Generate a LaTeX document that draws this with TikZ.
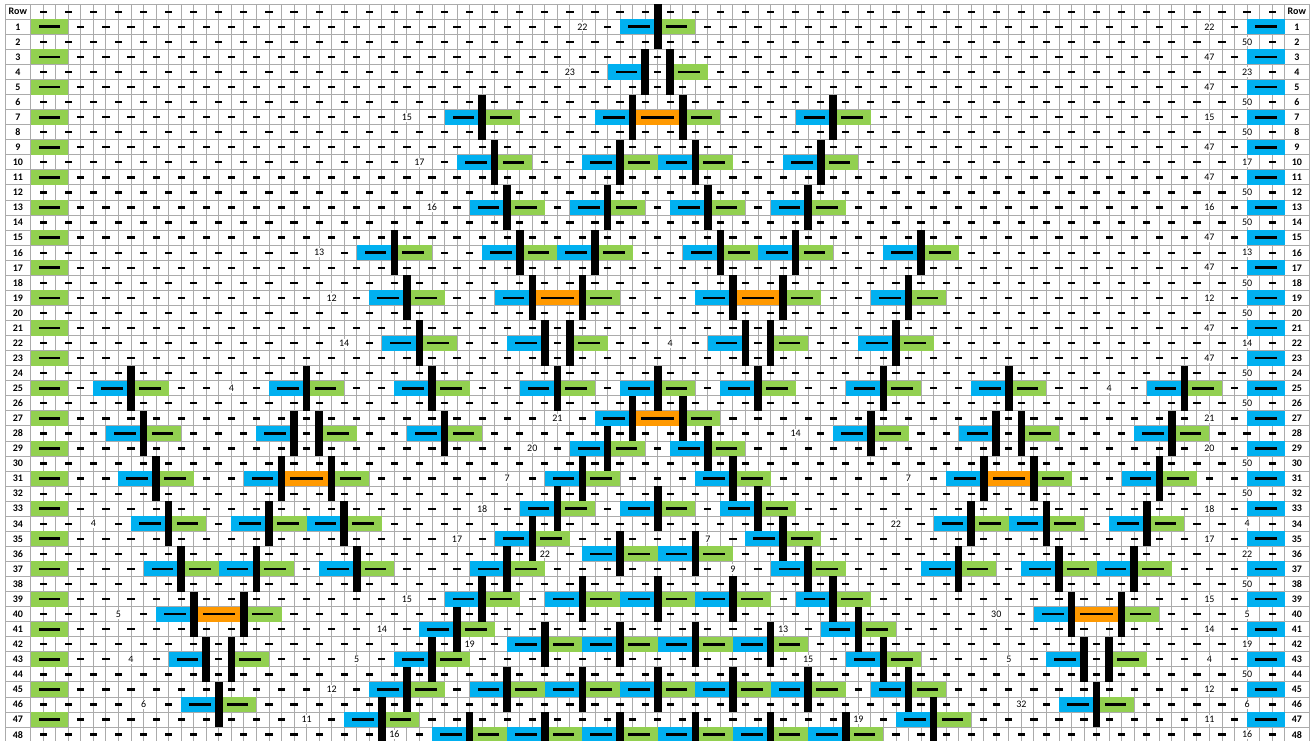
\documentclass[tikz,border=0pt]{standalone}
\usepackage{fontspec}
\setmainfont{Carlito}
\definecolor{cBlue}{HTML}{00B0F0}
\definecolor{cGreen}{HTML}{92D050}
\definecolor{cOrange}{HTML}{FF9900}
\definecolor{cGrid}{HTML}{ABABAB}
\newcommand\cellfill[4]{\fill[#1] ({X(#3)},{T(#2)}) rectangle ({X(#4)},{T(#2+1)});}
\newcommand\ldash[3]{\fill[black] ({X(#2)-#3},{C(#1)-1.35}) rectangle ({X(#2)+#3},{C(#1)+1.35});}
\newcommand\sdash[2]{\fill[black] ({X(#2)-3.6},{C(#1)-1.15}) rectangle ({X(#2)+3.6},{C(#1)+1.15});}
\newcommand\blkbar[2]{\fill[black] ({X(#2)-3.8},{T(#1-1)}) rectangle ({X(#2)+3.8},{T(#1+2)});}
\newcommand\cellsS[2]{\cellfill{cBlue}{#1}{#2-3}{#2}\cellfill{cGreen}{#1}{#2}{#2+3}\ldash{#1}{#2-1.5}{10.8}\ldash{#1}{#2+1.5}{10.8}}
\newcommand\cellsD[2]{\cellfill{cBlue}{#1}{#2-5}{#2-2}\cellfill{cOrange}{#1}{#2-2}{#2+2}\cellfill{cGreen}{#1}{#2+2}{#2+5}\ldash{#1}{#2-3.5}{10.8}\ldash{#1}{#2}{16.3}\ldash{#1}{#2+3.5}{10.8}}
\newcommand\cellsP[2]{\cellfill{cBlue}{#1}{#2-4}{#2-1}\cellfill{cGreen}{#1}{#2+1}{#2+4}\ldash{#1}{#2-2.5}{10.8}\ldash{#1}{#2+2.5}{10.8}\sdash{#1}{#2}}
\newcommand\barsS[2]{\blkbar{#1}{#2}}
\newcommand\barsD[2]{\blkbar{#1}{#2-2}\blkbar{#1}{#2+2}}
\newcommand\barsP[2]{\blkbar{#1}{#2-1}\blkbar{#1}{#2+1}}
\def\curpass{cells}
\def\blk#1#2#3{\csname\curpass#1\endcsname{#2}{#3}}
\newcommand\allblocks{%
\blk S{1}{50}
\blk P{4}{50}
\blk S{7}{36}\blk D{7}{50}\blk S{7}{64}
\blk S{10}{37}\blk S{10}{47}\blk S{10}{53}\blk S{10}{63}
\blk S{13}{38}\blk S{13}{46}\blk S{13}{54}\blk S{13}{62}
\blk S{16}{29}\blk S{16}{39}\blk S{16}{45}\blk S{16}{55}\blk S{16}{61}\blk S{16}{71}
\blk S{19}{30}\blk D{19}{42}\blk D{19}{58}\blk S{19}{70}
\blk S{22}{31}\blk P{22}{42}\blk P{22}{58}\blk S{22}{69}
\blk S{25}{8}\blk S{25}{22}\blk S{25}{32}\blk S{25}{42}\blk S{25}{50}\blk S{25}{58}\blk S{25}{68}\blk S{25}{78}\blk S{25}{92}
\blk D{27}{50}
\blk S{28}{9}\blk P{28}{22}\blk S{28}{33}\blk S{28}{67}\blk P{28}{78}\blk S{28}{91}
\blk S{29}{46}\blk S{29}{54}
\blk S{31}{10}\blk D{31}{22}\blk S{31}{44}\blk S{31}{56}\blk D{31}{78}\blk S{31}{90}
\blk S{33}{42}\blk S{33}{50}\blk S{33}{58}
\blk S{34}{11}\blk S{34}{19}\blk S{34}{25}\blk S{34}{75}\blk S{34}{81}\blk S{34}{89}
\blk S{35}{40}\blk S{35}{60}
\blk S{36}{47}\blk S{36}{53}
\blk S{37}{12}\blk S{37}{18}\blk S{37}{26}\blk S{37}{38}\blk S{37}{62}\blk S{37}{74}\blk S{37}{82}\blk S{37}{88}
\blk S{39}{36}\blk S{39}{44}\blk S{39}{50}\blk S{39}{56}\blk S{39}{64}
\blk D{40}{15}\blk D{40}{85}
\blk S{41}{34}\blk S{41}{66}
\blk S{42}{41}\blk S{42}{47}\blk S{42}{53}\blk S{42}{59}
\blk P{43}{15}\blk S{43}{32}\blk S{43}{68}\blk P{43}{85}
\blk S{45}{30}\blk S{45}{38}\blk S{45}{44}\blk S{45}{50}\blk S{45}{56}\blk S{45}{62}\blk S{45}{70}
\blk S{46}{15}\blk S{46}{85}
\blk S{47}{28}\blk S{47}{72}
\blk S{48}{35}\blk S{48}{41}\blk S{48}{47}\blk S{48}{53}\blk S{48}{59}\blk S{48}{65}
}
\newcommand\numat[3]{\node[num] at ({X(#2)},{C(#1)}) {#3};}
\begin{document}
\begin{tikzpicture}[x=1pt,y=-1pt,
  declare function={X(\a)=30.7+12.54*\a; T(\a)=4.2+15.06*\a; C(\a)=4.2+15.06*(\a+0.5);},
  num/.style={fill=white,inner sep=1.3pt,font=\fontsize{10}{12}\selectfont},
  lab/.style={font=\bfseries\fontsize{10}{12}\selectfont},
  gridline/.style={draw=cGrid,line width=0.9pt}]
\useasboundingbox (0,0) rectangle (1312,740);
\clip (0,0) rectangle (1312,740);
\fill[white] (0,0) rectangle (1312,740);
% grid
\foreach \r in {0,...,49} \draw[gridline] (5,{T(\r)}) -- (1309,{T(\r)});
\draw[gridline] (5,{T(0)}) -- (5,{T(49)});
\draw[gridline] (1309,{T(0)}) -- (1309,{T(49)});
\foreach \l in {0,...,100} \draw[gridline] ({X(\l)},{T(0)}) -- ({X(\l)},{T(49)});
% short dashes
\foreach \r in {0,2,...,48} {\foreach \l in {1,3,...,99} {\sdash{\r}{\l}}}
\foreach \r in {1,3,...,47} {\foreach \l in {4,6,...,96} {\sdash{\r}{\l}}}
% side cells
\foreach \r in {1,3,...,47} {\cellfill{cGreen}{\r}{0}{3}\ldash{\r}{1.5}{10.8}\cellfill{cBlue}{\r}{97}{100}\ldash{\r}{98.5}{10.8}}
% block cells
\def\curpass{cells}\allblocks
% numbers right side
\foreach \r/\v in {1/22,3/47,5/47,7/15,9/47,11/47,13/16,15/47,17/47,19/12,21/47,23/47,27/21,29/20,33/18,35/17,39/15,41/14,43/4,45/12,47/11} {\numat{\r}{94}{\v}}
\foreach \r/\v in {2/50,4/23,6/50,8/50,10/17,12/50,14/50,16/13,18/50,20/50,22/14,24/50,26/50,30/50,32/50,34/4,36/22,38/50,40/5,42/19,44/50,46/6,48/16} {\numat{\r}{97}{\v}}
% numbers in the field
\numat{1}{44}{22}
\numat{4}{43}{23}
\numat{7}{30}{15}
\numat{10}{31}{17}
\numat{13}{32}{16}
\numat{16}{23}{13}
\numat{19}{24}{12}
\numat{22}{25}{14}\numat{22}{51}{4}
\numat{25}{16}{4}\numat{25}{86}{4}
\numat{27}{42}{21}
\numat{28}{61}{14}
\numat{29}{40}{20}
\numat{31}{38}{7}\numat{31}{70}{7}
\numat{33}{36}{18}
\numat{34}{5}{4}\numat{34}{69}{22}
\numat{35}{34}{17}\numat{35}{54}{7}
\numat{36}{41}{22}
\numat{37}{56}{9}
\numat{39}{30}{15}
\numat{40}{7}{5}\numat{40}{77}{30}
\numat{41}{28}{14}\numat{41}{60}{13}
\numat{42}{35}{19}
\numat{43}{8}{4}\numat{43}{26}{5}\numat{43}{62}{15}\numat{43}{78}{5}
\numat{45}{24}{12}
\numat{46}{9}{6}\numat{46}{79}{32}
\numat{47}{22}{11}\numat{47}{66}{19}
\numat{48}{29}{16}
% bars
\def\curpass{bars}\allblocks
% labels
\node[lab] at (17.85,{C(0)}) {Row};
\node[lab] at (1296.85,{C(0)}) {Row};
\foreach \r in {1,...,48} {\node[lab] at (17.85,{C(\r)}) {\r}; \node[lab] at (1296.85,{C(\r)}) {\r};}
\end{tikzpicture}
\end{document}
